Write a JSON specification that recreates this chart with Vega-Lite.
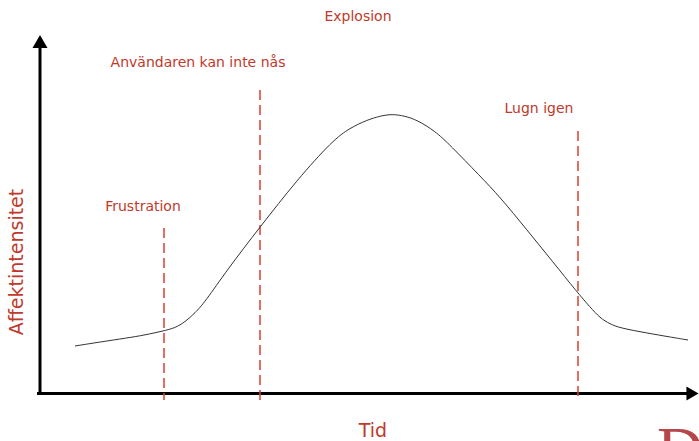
{
  "$schema": "https://vega.github.io/schema/vega-lite/v6.json",
  "width": 699,
  "height": 441,
  "padding": 0,
  "autosize": {"type": "fit", "contains": "padding"},
  "background": "white",
  "config": {"view": {"stroke": null}},
  "datasets": {
    "curve": [
      {"t": 75, "a": 95}, {"t": 100, "a": 99}, {"t": 127, "a": 103}, {"t": 145, "a": 106},
      {"t": 163, "a": 110}, {"t": 175, "a": 113}, {"t": 185, "a": 119}, {"t": 195, "a": 128},
      {"t": 205, "a": 139}, {"t": 227, "a": 171}, {"t": 260, "a": 214}, {"t": 297, "a": 261},
      {"t": 333, "a": 301}, {"t": 350, "a": 313}, {"t": 367, "a": 321}, {"t": 380, "a": 325},
      {"t": 392, "a": 327}, {"t": 405, "a": 325}, {"t": 417, "a": 321}, {"t": 435, "a": 310},
      {"t": 450, "a": 296}, {"t": 480, "a": 265}, {"t": 500, "a": 244}, {"t": 527, "a": 211},
      {"t": 553, "a": 179}, {"t": 577, "a": 149}, {"t": 590, "a": 134}, {"t": 600, "a": 123},
      {"t": 610, "a": 117}, {"t": 620, "a": 113}, {"t": 647, "a": 108}, {"t": 670, "a": 104},
      {"t": 688, "a": 101}
    ],
    "phases": [
      {"t": 164, "top": 213, "bottom": 41, "label": "Frustration", "lt": 143, "la": 234},
      {"t": 260, "top": 351, "bottom": 41, "label": "Användaren kan inte nås", "lt": 198, "la": 378},
      {"t": 578, "top": 310, "bottom": 41, "label": "Lugn igen", "lt": 539, "la": 332}
    ],
    "peak": [{"lt": 358, "la": 424, "label": "Explosion"}],
    "axes": [
      {"t": 40, "t2": 40, "a": 46, "a2": 395},
      {"t": 37, "t2": 690, "a": 47.5, "a2": 47.5}
    ],
    "yarrow": [{"t": 40, "a": 399.5}],
    "xarrow": [{"t": 692.5, "a": 47.5}],
    "xtitle": [{"t": 373, "a": 10, "label": "Tid"}],
    "ytitle": [{"t": 17, "a": 179, "label": "Affektintensitet"}],
    "logo": [{"t": 680, "a": 21, "label": "D"}]
  },
  "layer": [
    {
      "data": {"name": "axes"},
      "mark": {"type": "rule", "color": "black", "strokeWidth": 3},
      "encoding": {
        "x": {"field": "t", "type": "quantitative", "scale": {"domain": [0, 699], "nice": false, "zero": false}, "axis": null},
        "x2": {"field": "t2"},
        "y": {"field": "a", "type": "quantitative", "scale": {"domain": [0, 441], "nice": false, "zero": false}, "axis": null},
        "y2": {"field": "a2"}
      }
    },
    {
      "data": {"name": "yarrow"},
      "mark": {"type": "point", "shape": "triangle-up", "filled": true, "color": "black", "size": 225, "opacity": 1},
      "encoding": {
        "x": {"field": "t", "type": "quantitative", "scale": {"domain": [0, 699], "nice": false, "zero": false}, "axis": null},
        "y": {"field": "a", "type": "quantitative", "scale": {"domain": [0, 441], "nice": false, "zero": false}, "axis": null}
      }
    },
    {
      "data": {"name": "xarrow"},
      "mark": {"type": "point", "shape": "triangle-right", "filled": true, "color": "black", "size": 196, "opacity": 1},
      "encoding": {
        "x": {"field": "t", "type": "quantitative", "scale": {"domain": [0, 699], "nice": false, "zero": false}, "axis": null},
        "y": {"field": "a", "type": "quantitative", "scale": {"domain": [0, 441], "nice": false, "zero": false}, "axis": null}
      }
    },
    {
      "data": {"name": "phases"},
      "mark": {"type": "rule", "color": "#d9402f", "strokeWidth": 1.5, "strokeDash": [10, 5]},
      "encoding": {
        "x": {"field": "t", "type": "quantitative", "scale": {"domain": [0, 699], "nice": false, "zero": false}, "axis": null},
        "y": {"field": "top", "type": "quantitative", "scale": {"domain": [0, 441], "nice": false, "zero": false}, "axis": null},
        "y2": {"field": "bottom"}
      }
    },
    {
      "data": {"name": "curve"},
      "mark": {"type": "line", "color": "#333333", "strokeWidth": 1, "interpolate": "basis"},
      "encoding": {
        "x": {"field": "t", "type": "quantitative", "scale": {"domain": [0, 699], "nice": false, "zero": false}, "axis": null},
        "y": {"field": "a", "type": "quantitative", "scale": {"domain": [0, 441], "nice": false, "zero": false}, "axis": null}
      }
    },
    {
      "data": {"name": "phases"},
      "mark": {"type": "text", "color": "#c0392b", "font": "DejaVu Sans", "fontSize": 14, "align": "center", "baseline": "middle"},
      "encoding": {
        "x": {"field": "lt", "type": "quantitative", "scale": {"domain": [0, 699], "nice": false, "zero": false}, "axis": null},
        "y": {"field": "la", "type": "quantitative", "scale": {"domain": [0, 441], "nice": false, "zero": false}, "axis": null},
        "text": {"field": "label"}
      }
    },
    {
      "data": {"name": "peak"},
      "mark": {"type": "text", "color": "#c0392b", "font": "DejaVu Sans", "fontSize": 14, "align": "center", "baseline": "middle"},
      "encoding": {
        "x": {"field": "lt", "type": "quantitative", "scale": {"domain": [0, 699], "nice": false, "zero": false}, "axis": null},
        "y": {"field": "la", "type": "quantitative", "scale": {"domain": [0, 441], "nice": false, "zero": false}, "axis": null},
        "text": {"field": "label"}
      }
    },
    {
      "data": {"name": "xtitle"},
      "mark": {"type": "text", "color": "#c0392b", "font": "DejaVu Sans", "fontSize": 19, "align": "center", "baseline": "middle"},
      "encoding": {
        "x": {"field": "t", "type": "quantitative", "scale": {"domain": [0, 699], "nice": false, "zero": false}, "axis": null},
        "y": {"field": "a", "type": "quantitative", "scale": {"domain": [0, 441], "nice": false, "zero": false}, "axis": null},
        "text": {"field": "label"}
      }
    },
    {
      "data": {"name": "ytitle"},
      "mark": {"type": "text", "color": "#c0392b", "font": "DejaVu Sans", "fontSize": 19, "align": "center", "baseline": "middle", "angle": 270},
      "encoding": {
        "x": {"field": "t", "type": "quantitative", "scale": {"domain": [0, 699], "nice": false, "zero": false}, "axis": null},
        "y": {"field": "a", "type": "quantitative", "scale": {"domain": [0, 441], "nice": false, "zero": false}, "axis": null},
        "text": {"field": "label"}
      }
    },
    {
      "data": {"name": "logo"},
      "mark": {"type": "text", "color": "#b5474b", "font": "Liberation Serif", "fontSize": 64, "align": "center", "baseline": "top", "clip": true},
      "encoding": {
        "x": {"field": "t", "type": "quantitative", "scale": {"domain": [0, 699], "nice": false, "zero": false}, "axis": null},
        "y": {"field": "a", "type": "quantitative", "scale": {"domain": [0, 441], "nice": false, "zero": false}, "axis": null},
        "text": {"field": "label"}
      }
    }
  ]
}
